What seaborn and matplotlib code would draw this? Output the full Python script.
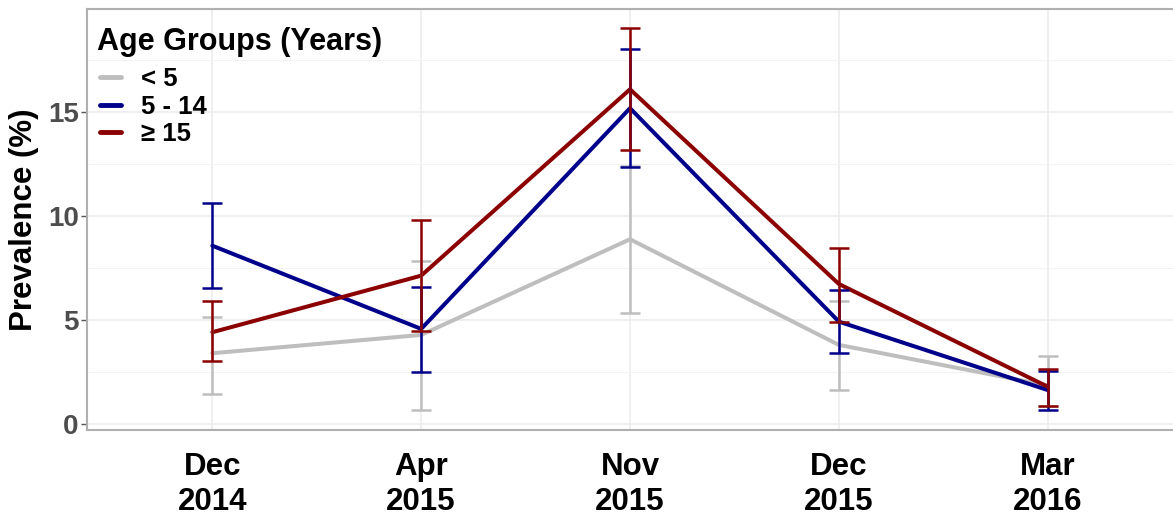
import numpy as np
import pandas as pd
import seaborn as sns
import matplotlib.pyplot as plt
from matplotlib.ticker import MultipleLocator

# survey rounds and age groups
rounds = ['Dec\n2014', 'Apr\n2015', 'Nov\n2015', 'Dec\n2015', 'Mar\n2016']
groups = ['< 5', '5 - 14', '\u2265 15']

# prevalence (%) with lower / upper bounds
prev_u5 = [3.40, 4.28, 8.88, 3.80, 1.85]
low_u5 = [1.43, 0.67, 5.35, 1.63, 0.85]
high_u5 = [5.16, 7.84, 12.40, 5.91, 3.27]

prev_5_14 = [8.57, 4.57, 15.18, 4.92, 1.63]
low_5_14 = [6.52, 2.51, 12.37, 3.43, 0.67]
high_5_14 = [10.63, 6.60, 18.01, 6.44, 2.56]

prev_15 = [4.41, 7.13, 16.09, 6.73, 1.79]
low_15 = [3.03, 4.47, 13.17, 4.92, 0.87]
high_15 = [5.91, 9.81, 19.02, 8.48, 2.64]

colours = ['#BEBEBE', '#00008B', '#8B0000']

df = pd.DataFrame({
    'round': rounds * 3,
    'group': np.repeat(groups, len(rounds)),
    'prev': prev_u5 + prev_5_14 + prev_15,
    'low': low_u5 + low_5_14 + low_15,
    'high': high_u5 + high_5_14 + high_15,
})

sns.set_style('white')
plt.rcParams['font.family'] = ['Liberation Sans', 'DejaVu Sans']
plt.rcParams['text.color'] = 'black'
plt.rcParams['axes.labelcolor'] = 'black'

fig = plt.figure(figsize=(11.73, 5.21), dpi=100)
ax = fig.add_axes([0.0742, 0.1747, 0.9258, 0.808])

sns.lineplot(data=df, x='round', y='prev', hue='group', hue_order=groups,
             palette=colours, linewidth=2.9, sort=False, ax=ax, zorder=3)

for g, c in zip(groups, colours):
    d = df[df['group'] == g]
    ax.errorbar(d['round'], d['prev'],
                yerr=[d['prev'] - d['low'], d['high'] - d['prev']],
                fmt='none', ecolor=c, elinewidth=1.8, capsize=7,
                capthick=1.8, zorder=4)

ax.set_xlim(-0.6, 4.6)
ax.set_ylim(-0.29, 19.95)
ax.yaxis.set_major_locator(MultipleLocator(5))
ax.yaxis.set_minor_locator(MultipleLocator(2.5))

ax.grid(which='major', color='#EBEBEB', linewidth=1.1, zorder=0)
ax.grid(which='minor', axis='y', color='#F3F3F3', linewidth=0.8, zorder=0)
ax.set_axisbelow(True)

for s in ['left', 'bottom', 'top']:
    ax.spines[s].set_color('#B0B0B0')
    ax.spines[s].set_linewidth(1.5)
ax.spines['right'].set_visible(False)

ax.tick_params(axis='x', length=2, width=1, color='#555555', pad=14,
               labelsize=22.5, labelcolor='black')
ax.tick_params(axis='y', length=4, width=1, color='#555555', pad=2,
               labelsize=20, labelcolor='#4D4D4D', left=True)
for lab in ax.get_xticklabels() + ax.get_yticklabels():
    lab.set_fontweight('bold')
for lab in ax.get_xticklabels():
    lab.set_linespacing(1.2)

ax.set_xlabel('')
ax.set_ylabel('Prevalence (%)', fontsize=22.5, fontweight='bold', labelpad=6)

# legend title as separate text so the gap to the entries can be matched
ax.text(0.0092, 0.921, 'Age Groups (Years)', transform=ax.transAxes,
        ha='left', va='center', fontsize=22, fontweight='bold', color='black',
        zorder=6)
leg = ax.legend(loc='upper left', bbox_to_anchor=(0.012, 0.863),
                frameon=False, prop={'weight': 'bold', 'size': 18.5},
                handlelength=0.8, handletextpad=0.8, labelspacing=0.15,
                borderpad=0, borderaxespad=0)
for t in leg.get_texts():
    t.set_color('black')
for h in leg.get_lines():
    h.set_linewidth(3.5)

fig.savefig('out.png', dpi=100)
